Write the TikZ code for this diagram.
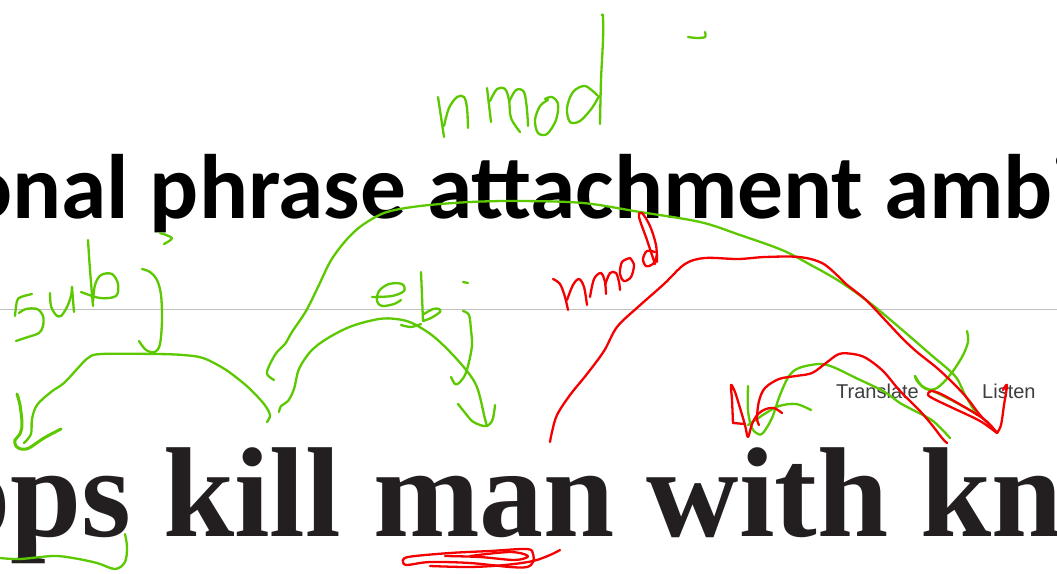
\documentclass[tikz,border=0pt]{standalone}
\usepackage{fontspec}
\newfontfamily\titlefont{Carlito}
\newfontfamily\headfont{Liberation Serif}
\newfontfamily\uifont{Liberation Sans}
\definecolor{inkgreen}{RGB}{92,200,0}
\definecolor{inkred}{RGB}{245,0,0}
\definecolor{headink}{RGB}{35,31,32}
\definecolor{rulegray}{RGB}{192,192,192}
\definecolor{uigray}{RGB}{62,62,66}
\tikzset{
  pen/.style={line width=2.3pt, line cap=round, line join=round},
  gpen/.style={pen, draw=inkgreen},
  rpen/.style={pen, draw=inkred},
  hand/.style={smooth, tension=0.55}
}
\begin{document}
\begin{tikzpicture}[x=1pt, y=-1pt]
\useasboundingbox (0,0) rectangle (1057,573);
\clip (0,0) rectangle (1057,573);
\fill[white] (0,0) rectangle (1057,573);

% slide rule
\draw[rulegray, line width=1pt] (0,309) -- (1057,309);

% slide title and headline
\node[anchor=base west, inner sep=0] (title) at (-37,218)
  {\titlefont\bfseries\fontsize{91.5}{91.5}\selectfont onal phrase attachment ambi};
\node[anchor=base west, inner sep=0, text=headink] (headline) at (-54,536)
  {\headfont\bfseries\fontsize{128}{128}\selectfont ops kill man with kn};
\node[anchor=base west, inner sep=0, text=uigray] (translate) at (836,398)
  {\uifont\fontsize{20}{20}\selectfont Translate};
\node[anchor=base west, inner sep=0, text=uigray] (listen) at (982,398)
  {\uifont\fontsize{20}{20}\selectfont Listen};

% ---- green ink ----
% "nmod" label, top
\draw[gpen] plot[hand] coordinates {(438,97) (441,117) (444,137)};
\draw[gpen] plot[hand] coordinates {(444,126) (449,108) (457,97) (464,97) (467,108) (468,128)};
\draw[gpen] plot[hand] coordinates {(487,88) (489,105) (491,122)};
\draw[gpen] plot[hand] coordinates {(490,101) (497,89) (505,89) (509,100) (511,118) (520,132)};
\draw[gpen] plot[hand] coordinates {(509,102) (516,90) (524,92) (527,110) (528,126)};
\draw[gpen] plot[hand] coordinates {(548,100) (540,106) (535,120) (538,133) (547,134) (556,120) (558,104) (552,97) (545,99)};
\draw[gpen] plot[hand] coordinates {(597,95) (585,86) (573,92) (567,108) (570,122) (580,121) (592,108) (599,96)};
\draw[gpen] plot[hand] coordinates {(600,124) (601,80) (603,40) (603,17) (602,15)};
\draw[gpen] plot[hand] coordinates {(688,37) (697,38) (705,37) (705,32)};

% "sub" label
\draw[gpen] plot[hand] coordinates {(15,316) (17,301) (21,297) (32,294)};
\draw[gpen] plot[hand] coordinates {(19,313) (26,309) (37,309) (43,316) (43,326) (39,333) (28,337) (16,341)};
\draw[gpen] plot[hand] coordinates {(50,293) (51,306) (56,315) (61,316) (67,307) (71,296) (72,287)};
\draw[gpen] plot[hand] coordinates {(72,287) (73,300) (74,312)};
\draw[gpen] plot[hand] coordinates {(88,240) (90,270) (93,306)};
\draw[gpen] plot[hand] coordinates {(81,292) (100,298) (116,296) (118,284) (112,274) (101,275) (95,285) (93,302)};
\draw[gpen] plot[hand] coordinates {(160,233) (172,238) (164,244)};
\draw[gpen] plot[hand] coordinates {(139,341) (146,350) (155,352) (160,344) (162,320) (161,295) (157,280) (150,272) (142,269)};

% sub arc and its arrowhead
\draw[gpen] plot[hand] coordinates {(267,422) (270,415) (264,404) (250,389) (237,378) (223,368) (203,358) (183,355) (156,354) (101,354) (88,358) (78,368) (64,383) (51,392) (37,405) (32,419) (31,434) (24,443)};
\draw[gpen, line width=3pt] plot[hand] coordinates {(17,394) (20,405) (22,424) (20,434) (15,440) (16,446) (21,449) (29,448) (44,438) (61,429)};

% "obj" label
\draw[gpen] plot[hand] coordinates {(372,297) (392,296) (404,291) (402,284) (389,284) (379,291) (377,301) (382,306) (394,304) (401,300)};
\draw[gpen] plot[hand] coordinates {(421,272) (422,296) (423,321)};
\draw[gpen] plot[hand] coordinates {(423,321) (431,318) (440,312) (439,309) (433,309) (424,314)};
\draw[gpen] plot[hand] coordinates {(401,325) (411,327) (421,324)};
\draw[gpen] (463,282) -- (468,283);
\draw[gpen] plot[hand] coordinates {(463,311) (469,315) (471,330) (472,345) (469,362) (465,375) (459,383) (455,384) (451,377)};

% obj arc and its arrowhead
\draw[gpen] plot[hand] coordinates {(279,412) (281,406) (288,401) (294,389) (299,369) (311,351) (328,338) (352,326) (379,319) (396,319) (412,323) (433,336) (453,355) (470,375) (478,390) (485,419) (487,426)};
\draw[gpen] plot[hand] coordinates {(458,404) (466,414) (472,421) (480,425) (487,426) (492,421) (494,413) (495,405)};

% long nmod arc over the title
\draw[gpen] plot[hand] coordinates {(274,380) (267,374) (270,364) (277,352) (285,344) (292,332) (306,311) (318,287) (330,262) (342,245) (354,232) (367,222) (387,212) (420,206) (470,202) (520,201) (583,203) (640,212) (700,222) (740,235) (782,250) (809,264) (839,281) (870,303) (900,328) (930,354) (955,376) (965,395) (977,415)};
\draw[gpen] plot[hand] coordinates {(967,331) (968,342) (962,357) (950,375) (937,388) (926,389) (917,381) (915,376)};
\draw[gpen] plot[hand] coordinates {(915,376) (922,386) (935,392) (955,402) (977,414)};

% underline of "ops"
\draw[gpen] plot[hand] coordinates {(0,558) (20,559) (53,556) (73,558) (97,563) (115,569) (125,562) (127,547) (125,534)};

% green arc ending at "with"
\draw[gpen] plot[hand] coordinates {(748,386) (748,411) (752,428) (758,434) (763,433) (772,418) (780,395) (789,376) (799,368) (819,364) (833,367) (856,378) (883,391) (900,403) (913,410) (933,421) (950,438)};
\draw[gpen] plot[hand] coordinates {(748,425) (757,419) (766,413) (779,406) (796,404) (811,410)};

% ---- red ink ----
% "nmod" label
\draw[rpen] plot[hand] coordinates {(553,279) (560,284) (565,297) (568,310)};
\draw[rpen] plot[hand] coordinates {(567,300) (573,285) (579,279) (584,287) (587,305)};
\draw[rpen] plot[hand] coordinates {(590,297) (594,279) (601,273) (605,282) (606,294)};
\draw[rpen] plot[hand] coordinates {(605,285) (610,273) (616,273) (619,282) (620,290)};
\draw[rpen] plot[hand] coordinates {(630,258) (622,262) (620,274) (624,281) (631,277) (634,265) (630,258)};
\draw[rpen] plot[hand] coordinates {(655,252) (647,251) (643,259) (646,266) (653,264) (657,255)};
\draw[rpen] plot[hand] coordinates {(657,262) (656,245) (650,226) (642,213) (639,217) (647,240) (655,264)};

% long nmod arc and its arrowhead
\draw[rpen] plot[hand] coordinates {(550,442) (552,432) (557,415) (570,395) (587,374) (604,351) (617,327) (638,307) (664,284) (685,264) (705,258) (738,259) (765,257) (799,257) (822,263) (839,277) (846,284) (866,300) (886,321) (903,339) (917,352) (937,368) (954,384) (967,398) (980,415) (991,426) (997,433)};
\draw[rpen] plot[hand] coordinates {(997,433) (980,421) (955,409) (936,400) (928,395) (931,391) (941,394) (961,405) (985,420) (997,433)};
\draw[rpen] plot[hand] coordinates {(997,433) (1001,425) (1004,405) (1007,385) (1003,390)};

% short arc ending at "with"
\draw[rpen] plot[hand] coordinates {(947,443) (942,438) (932,425) (920,411) (900,391) (883,371) (866,358) (853,354) (839,354) (826,363) (812,373) (796,376) (779,379) (765,388) (759,401) (757,418) (759,425)};
\draw[rpen] plot[hand] coordinates {(733,423) (732,400) (731,385) (735,392) (740,408) (745,425) (748,437) (752,424) (758,414) (766,409) (774,408) (782,413)};
\draw[rpen] (733,423) -- (745,424);

% scribble under "man"
\draw[rpen] plot[hand] coordinates {(403,562) (408,557) (450,553) (490,551) (527,549) (533,554) (533,562) (527,567) (510,567) (470,563) (430,562) (407,565) (403,562)};
\draw[rpen] plot[hand] coordinates {(560,550) (550,555) (533,561) (505,565) (470,567) (430,566)};
\draw[rpen] plot[hand] coordinates {(445,556) (480,557) (515,560) (528,556) (510,552) (470,556)};
\end{tikzpicture}
\end{document}
